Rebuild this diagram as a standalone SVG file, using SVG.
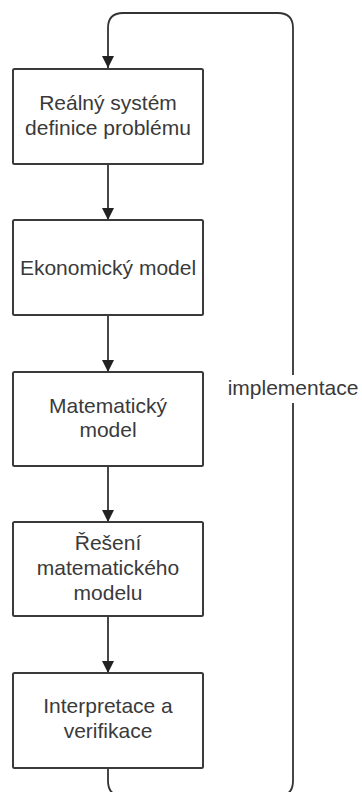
<svg xmlns="http://www.w3.org/2000/svg" width="362" height="792" viewBox="0 0 362 792">
<style>
.box{fill:#fff;stroke:#3a3a3a;stroke-width:2}
.lbl{font-family:"Liberation Sans",Arial,sans-serif;font-size:21px;fill:#3a3a3a;text-anchor:middle}
.con{fill:none;stroke:#333;stroke-width:1.8}
</style>
<defs>
<marker id="ah" markerWidth="12" markerHeight="12" refX="12" refY="6" orient="auto" markerUnits="userSpaceOnUse">
<path d="M0,0 L12,6 L0,12 Z" fill="#222"/>
</marker>
</defs>
<rect width="362" height="792" fill="#fff"/>
<g id="connectors">
<path class="con" d="M293,375 V28 Q293,13 278,13 H123 Q108,13 108,28 V68" marker-end="url(#ah)"/>
<path class="con" d="M108,768 V781 Q108,796 123,796 H278 Q293,796 293,781 V403"/>
<path class="con" d="M108,164 V220" marker-end="url(#ah)"/>
<path class="con" d="M108,315 V372" marker-end="url(#ah)"/>
<path class="con" d="M108,466 V522" marker-end="url(#ah)"/>
<path class="con" d="M108,616 V673" marker-end="url(#ah)"/>
<text class="lbl" x="293" y="395">implementace</text>
</g>
<g id="n1">
<rect class="box" x="13" y="69" width="190" height="95" rx="1.5"/>
<text class="lbl" x="108" y="110">Reálný systém</text>
<text class="lbl" x="108" y="135">definice problému</text>
</g>
<g id="n2">
<rect class="box" x="13" y="220" width="190" height="95" rx="1.5"/>
<text class="lbl" x="108" y="275">Ekonomický model</text>
</g>
<g id="n3">
<rect class="box" x="13" y="372" width="190" height="94" rx="1.5"/>
<text class="lbl" x="108" y="413">Matematický</text>
<text class="lbl" x="108" y="437">model</text>
</g>
<g id="n4">
<rect class="box" x="13" y="522" width="190" height="94" rx="1.5"/>
<text class="lbl" x="108" y="550">Řešení</text>
<text class="lbl" x="108" y="575">matematického</text>
<text class="lbl" x="108" y="600">modelu</text>
</g>
<g id="n5">
<rect class="box" x="13" y="673" width="190" height="95" rx="1.5"/>
<text class="lbl" x="108" y="713">Interpretace a</text>
<text class="lbl" x="108" y="738">verifikace</text>
</g>
</svg>
